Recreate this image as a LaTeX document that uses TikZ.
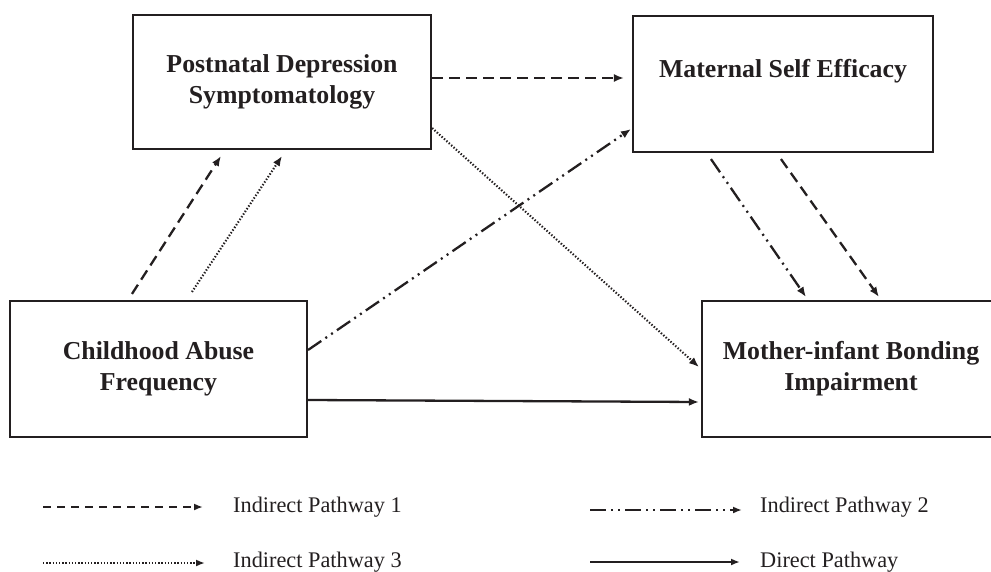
\documentclass[tikz,border=0pt]{standalone}
\usepackage{fontspec}
\setmainfont{Liberation Serif}
\usetikzlibrary{arrows.meta,calc}
\definecolor{ink}{HTML}{231F20}
\tikzset{
  box/.style={draw=ink, line width=2.1pt, rectangle, align=center, inner sep=0pt,
    font=\bfseries\fontsize{25.8}{31}\selectfont, text=ink},
  conn/.style={draw=ink, line width=2.3pt, -{Latex[length=10pt,width=8pt]}},
  pdash/.style={conn, dash pattern=on 11pt off 6pt},
  pdot/.style={conn, line width=2.1pt, dash pattern=on 1.4pt off 1.8pt},
  pdd/.style={conn, dash pattern=on 16pt off 5pt on 2pt off 5pt on 2pt off 5pt},
  psolid/.style={conn},
  legtext/.style={anchor=west, inner sep=0pt, font=\fontsize{22.3}{26}\selectfont, text=ink}
}
\begin{document}
\begin{tikzpicture}[x=1pt,y=-1pt]
\useasboundingbox (0,0) rectangle (991,572);
% boxes
\node[box, minimum width=298pt, minimum height=134pt] (pds) at (282,82) {Postnatal Depression\\Symptomatology};
\node[box, minimum width=300pt, minimum height=136pt] (mse) at (783,84) {Maternal Self Efficacy\\\mbox{}};
\node[box, minimum width=297pt, minimum height=136pt] (caf) at (158.5,369) {Childhood Abuse\\Frequency};
\node[box, minimum width=298pt, minimum height=136pt] (mib) at (851,369) {Mother-infant Bonding\\Impairment};
% connectors
\draw[pdash] ($(caf.north west)+(123,-6)$) -- ($(pds.south west)+(89,6)$);
\draw[pdot] ($(caf.north west)+(183,-8)$) -- ($(pds.south)+(0,6)$);
\draw[pdash] ($(pds.east)+(0,-4)$) -- ($(mse.west)+(-8,-6)$);
\draw[pdot] ($(pds.south east)+(0,-22)$) -- ($(mib.west)+(-2,-2)$);
\draw[pdd] ($(caf.east)+(0,-19)$) -- ($(mse.south west)+(-1,-24)$);
\draw[psolid] ($(caf.east)+(0,31)$) -- ($(mib.west)+(-2,33)$);
\draw[pdd] ($(mse.south west)+(79,6)$) -- ($(mib.north west)+(105,-3)$);
\draw[pdash] ($(mse.south west)+(149,6)$) -- ($(mib.north west)+(178,-3)$);
% legend
\coordinate (l1a) at (43,507); \coordinate (l1b) at (203,507);
\node[legtext] (t1) at (233,507) {Indirect Pathway 1};
\draw[pdash, line width=2pt, dash pattern=on 8pt off 6pt, -{Latex[length=9pt,width=7pt]}] (l1a) -- (l1b);
\coordinate (l2a) at (590,510); \coordinate (l2b) at (742,510);
\node[legtext] (t2) at (760,507) {Indirect Pathway 2};
\draw[pdd, line width=2pt, -{Latex[length=9pt,width=7pt]}] (l2a) -- (l2b);
\coordinate (l3a) at (43,563); \coordinate (l3b) at (205,563);
\node[legtext] (t3) at (233,562) {Indirect Pathway 3};
\draw[pdot, line width=1.8pt, -{Latex[length=9pt,width=7pt]}] (l3a) -- (l3b);
\coordinate (l4a) at (590,562); \coordinate (l4b) at (740,562);
\node[legtext] (t4) at (760,562) {Direct Pathway};
\draw[psolid, line width=2pt, -{Latex[length=9pt,width=7pt]}] (l4a) -- (l4b);
\end{tikzpicture}
\end{document}
